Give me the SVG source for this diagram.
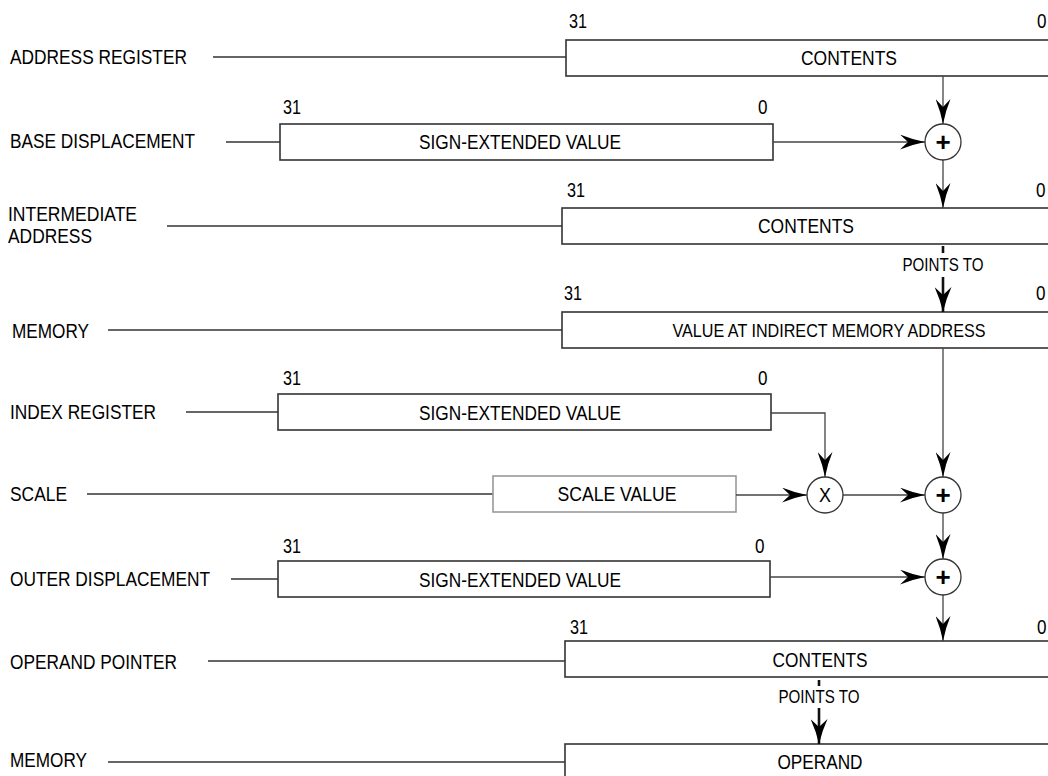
<svg xmlns="http://www.w3.org/2000/svg" width="1048" height="776" viewBox="0 0 1048 776">
<defs>
<style>
text{font-family:"Liberation Sans",Arial,sans-serif;font-size:19.5px;fill:#000}
.lbl{text-anchor:start}
.mid{text-anchor:middle}
.box{fill:#fff;stroke:#333;stroke-width:1.6}
.gbox{fill:#fff;stroke:#999;stroke-width:1.6}
.lead{stroke:#333;stroke-width:1.3;fill:none}
.conn{stroke:#444;stroke-width:1.3;fill:none}
.thick{stroke:#111;stroke-width:2.6;fill:none}
.circ{fill:#fff;stroke:#333;stroke-width:1.3}
.pt{font-size:18px}
.sm{font-size:18px}
.plus{font-size:26px;font-weight:bold;text-anchor:middle}
</style>
<marker id="ah" markerUnits="userSpaceOnUse" viewBox="0 0 25 15" refX="25" refY="7.5" markerWidth="25" markerHeight="15" orient="auto">
<path d="M0,0 Q12,5 25,7.5 Q12,10 0,15 L8,7.5 Z" fill="#000"/>
</marker>
<marker id="ahb" markerUnits="userSpaceOnUse" viewBox="0 0 25 17" refX="25" refY="8.5" markerWidth="25" markerHeight="17" orient="auto">
<path d="M0,0 Q12,5.5 25,8.5 Q12,11.5 0,17 L8,8.5 Z" fill="#000"/>
</marker>
</defs>

<g id="row-address-register">
<text class="lbl" x="10" y="64" textLength="177" lengthAdjust="spacingAndGlyphs">ADDRESS REGISTER</text>
<line class="lead" x1="213" y1="57" x2="566" y2="57"/>
<rect class="box" x="566" y="40" width="560" height="36"/>
<text class="mid" x="849" y="65" textLength="96" lengthAdjust="spacingAndGlyphs">CONTENTS</text>
<text x="569" y="28" textLength="18" lengthAdjust="spacingAndGlyphs">31</text>
<text x="1037" y="28" textLength="9.5" lengthAdjust="spacingAndGlyphs">0</text>
</g>

<g id="row-base-displacement">
<text class="lbl" x="10" y="148" textLength="185" lengthAdjust="spacingAndGlyphs">BASE DISPLACEMENT</text>
<line class="lead" x1="226" y1="142" x2="280" y2="142"/>
<rect class="box" x="280" y="124" width="493" height="36"/>
<text class="mid" x="520" y="149" textLength="202" lengthAdjust="spacingAndGlyphs">SIGN-EXTENDED VALUE</text>
<text x="283" y="114" textLength="18" lengthAdjust="spacingAndGlyphs">31</text>
<text x="758" y="114" textLength="9.5" lengthAdjust="spacingAndGlyphs">0</text>
</g>

<g id="row-intermediate-address">
<text class="lbl" x="8" y="221" textLength="129" lengthAdjust="spacingAndGlyphs">INTERMEDIATE</text>
<text class="lbl" x="8" y="243" textLength="84" lengthAdjust="spacingAndGlyphs">ADDRESS</text>
<line class="lead" x1="167" y1="226" x2="562" y2="226"/>
<rect class="box" x="562" y="208" width="560" height="36"/>
<text class="mid" x="806" y="233" textLength="96" lengthAdjust="spacingAndGlyphs">CONTENTS</text>
<text x="567" y="197" textLength="18" lengthAdjust="spacingAndGlyphs">31</text>
<text x="1036" y="197" textLength="9.5" lengthAdjust="spacingAndGlyphs">0</text>
</g>

<g id="row-memory">
<text class="lbl" x="12" y="338" textLength="77" lengthAdjust="spacingAndGlyphs">MEMORY</text>
<line class="lead" x1="108" y1="330" x2="562" y2="330"/>
<rect class="box" x="562" y="312" width="560" height="36"/>
<text class="mid sm" x="829" y="337" textLength="313" lengthAdjust="spacingAndGlyphs">VALUE AT INDIRECT MEMORY ADDRESS</text>
<text x="564" y="300" textLength="18" lengthAdjust="spacingAndGlyphs">31</text>
<text x="1036" y="300" textLength="9.5" lengthAdjust="spacingAndGlyphs">0</text>
</g>

<g id="row-index-register">
<text class="lbl" x="10" y="419" textLength="146" lengthAdjust="spacingAndGlyphs">INDEX REGISTER</text>
<line class="lead" x1="186" y1="412" x2="278" y2="412"/>
<rect class="box" x="278" y="394" width="493" height="36"/>
<text class="mid" x="520" y="420" textLength="202" lengthAdjust="spacingAndGlyphs">SIGN-EXTENDED VALUE</text>
<text x="283" y="385" textLength="18" lengthAdjust="spacingAndGlyphs">31</text>
<text x="758" y="385" textLength="9.5" lengthAdjust="spacingAndGlyphs">0</text>
</g>

<g id="row-scale">
<text class="lbl" x="10" y="501" textLength="57" lengthAdjust="spacingAndGlyphs">SCALE</text>
<line class="lead" x1="87" y1="494" x2="493" y2="494"/>
<rect class="gbox" x="493" y="476" width="243" height="36"/>
<text class="mid" x="617" y="501" textLength="119" lengthAdjust="spacingAndGlyphs">SCALE VALUE</text>
</g>

<g id="row-outer-displacement">
<text class="lbl" x="10" y="586" textLength="200" lengthAdjust="spacingAndGlyphs">OUTER DISPLACEMENT</text>
<line class="lead" x1="231" y1="579" x2="278" y2="579"/>
<rect class="box" x="278" y="561" width="492" height="36"/>
<text class="mid" x="520" y="587" textLength="202" lengthAdjust="spacingAndGlyphs">SIGN-EXTENDED VALUE</text>
<text x="283" y="553" textLength="18" lengthAdjust="spacingAndGlyphs">31</text>
<text x="755" y="553" textLength="9.5" lengthAdjust="spacingAndGlyphs">0</text>
</g>

<g id="row-operand-pointer">
<text class="lbl" x="10" y="669" textLength="167" lengthAdjust="spacingAndGlyphs">OPERAND POINTER</text>
<line class="lead" x1="208" y1="661" x2="565" y2="661"/>
<rect class="box" x="565" y="641" width="560" height="36"/>
<text class="mid" x="820" y="667" textLength="95" lengthAdjust="spacingAndGlyphs">CONTENTS</text>
<text x="570" y="634" textLength="18" lengthAdjust="spacingAndGlyphs">31</text>
<text x="1037" y="634" textLength="9.5" lengthAdjust="spacingAndGlyphs">0</text>
</g>

<g id="row-operand-memory">
<text class="lbl" x="10" y="767" textLength="77" lengthAdjust="spacingAndGlyphs">MEMORY</text>
<line class="lead" x1="108" y1="762" x2="565" y2="762"/>
<rect class="box" x="565" y="744" width="560" height="40"/>
<text class="mid" x="820" y="769" textLength="85" lengthAdjust="spacingAndGlyphs">OPERAND</text>
</g>

<g id="connectors">
<line class="conn" x1="943" y1="76" x2="943" y2="124" marker-end="url(#ah)"/>
<line class="conn" x1="773" y1="142" x2="925" y2="142" marker-end="url(#ah)"/>
<line class="conn" x1="943" y1="160" x2="943" y2="208" marker-end="url(#ah)"/>
<line class="thick" x1="943" y1="246" x2="943" y2="253"/>
<text class="mid pt" x="943" y="271" textLength="81" lengthAdjust="spacingAndGlyphs">POINTS TO</text>
<line class="thick" x1="943" y1="277" x2="943" y2="312" marker-end="url(#ahb)"/>
<line class="conn" x1="943" y1="348" x2="943" y2="477" marker-end="url(#ah)"/>
<polyline class="conn" points="771,413 825,413 825,477" marker-end="url(#ah)"/>
<line class="conn" x1="736" y1="495" x2="807" y2="495" marker-end="url(#ah)"/>
<line class="conn" x1="843" y1="495" x2="925" y2="495" marker-end="url(#ah)"/>
<line class="conn" x1="943" y1="513" x2="943" y2="559" marker-end="url(#ah)"/>
<line class="conn" x1="770" y1="577" x2="925" y2="577" marker-end="url(#ah)"/>
<line class="conn" x1="943" y1="595" x2="943" y2="641" marker-end="url(#ah)"/>
<line class="thick" x1="819" y1="680" x2="819" y2="686"/>
<text class="mid pt" x="819" y="703" textLength="81" lengthAdjust="spacingAndGlyphs">POINTS TO</text>
<line class="thick" x1="819" y1="708" x2="819" y2="744" marker-end="url(#ahb)"/>
</g>

<g id="adder-1">
<circle class="circ" cx="943" cy="142" r="18"/>
<text class="plus" x="943" y="151">+</text>
</g>
<g id="multiplier">
<circle class="circ" cx="825" cy="495" r="18"/>
<text class="mid" x="825" y="502" textLength="12" lengthAdjust="spacingAndGlyphs">X</text>
</g>
<g id="adder-2">
<circle class="circ" cx="943" cy="495" r="18"/>
<text class="plus" x="943" y="504">+</text>
</g>
<g id="adder-3">
<circle class="circ" cx="943" cy="577" r="18"/>
<text class="plus" x="943" y="586">+</text>
</g>
</svg>
